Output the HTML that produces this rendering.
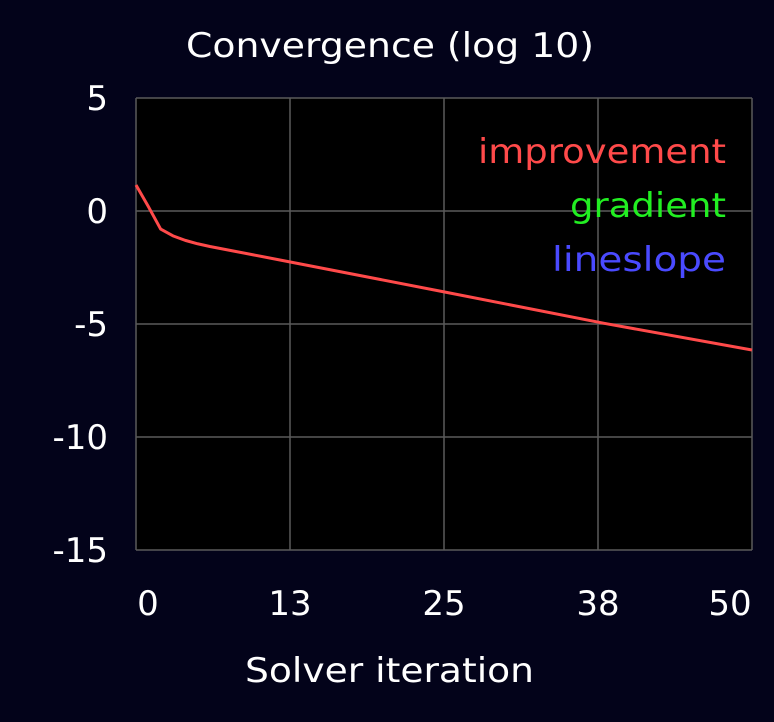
<!DOCTYPE html>
<html><head><meta charset="utf-8"><style>
html,body{margin:0;padding:0;background:#03031a;}
svg text{font-family:"DejaVu Sans","Liberation Sans",sans-serif;}
</style></head><body>
<svg id="chart" width="774" height="717" viewBox="0 0 774 717" xmlns="http://www.w3.org/2000/svg">
<rect x="0" y="0" width="774" height="717" fill="#03031a"/>
<text x="186" y="57" font-size="34" fill="#ffffff" textLength="408" lengthAdjust="spacingAndGlyphs">Convergence (log 10)</text>
<rect x="136" y="98" width="616" height="452" fill="#000000"/>
<g id="grid"></g>
<g id="ticks"></g>
<g id="series"></g>
<text x="245" y="682" font-size="34" fill="#ffffff" textLength="289" lengthAdjust="spacingAndGlyphs">Solver iteration</text>
<g>
<text x="478" y="163" font-size="34" fill="#ff4a4a" textLength="248" lengthAdjust="spacingAndGlyphs">improvement</text>
<text x="570" y="217" font-size="34" fill="#22ee22" textLength="156" lengthAdjust="spacingAndGlyphs">gradient</text>
<text x="552" y="271" font-size="34" fill="#4a4aff" textLength="174" lengthAdjust="spacingAndGlyphs">lineslope</text>
</g>
</svg>
<script>
const xTicks = [0, 12.5, 25, 37.5, 50];
const xTickLabels = ["0", "13", "25", "38", "50"];
const yTicks = [5, 0, -5, -10, -15];
const yTickLabels = ["5", "0", "-5", "-10", "-15"];
const iterations = [0, 1, 2, 3, 4, 5, 6, 8, 12, 25, 38, 50];
const improvement = [1.15, 0.2, -0.8, -1.1, -1.3, -1.45, -1.57, -1.78, -2.2, -3.58, -4.97, -6.15];

const X0=136, X1=752, Y0=550, Y1=98;
function sx(v){return X0+(v-0)/(50-0)*(X1-X0);}
function sy(v){return Y0-(v-(-15))/(5-(-15))*(Y0-Y1);}
const NS="http://www.w3.org/2000/svg";
const grid=document.getElementById('grid');
const ticks=document.getElementById('ticks');
xTicks.forEach((t,i)=>{
  const l=document.createElementNS(NS,'line');
  l.setAttribute('x1',sx(t));l.setAttribute('x2',sx(t));l.setAttribute('y1',Y1);l.setAttribute('y2',Y0);
  l.setAttribute('stroke','#5a5a5a');l.setAttribute('stroke-width','1.5');
  
  
  grid.appendChild(l);
  const tx=document.createElementNS(NS,'text');
  let cx=sx(t);
  if(i===0) cx=sx(t)+12;
  if(i===xTicks.length-1) cx=sx(t)-22;
  tx.setAttribute('x',cx);tx.setAttribute('y',615);
  tx.setAttribute('font-size','34');tx.setAttribute('fill','#fff');tx.setAttribute('text-anchor','middle');
  tx.textContent=xTickLabels[i];
  
  
  ticks.appendChild(tx);
});
yTicks.forEach((t,i)=>{
  const l=document.createElementNS(NS,'line');
  l.setAttribute('x1',X0);l.setAttribute('x2',X1);l.setAttribute('y1',sy(t));l.setAttribute('y2',sy(t));
  l.setAttribute('stroke','#5a5a5a');l.setAttribute('stroke-width','1.5');
  
  
  grid.appendChild(l);
  const tx=document.createElementNS(NS,'text');
  tx.setAttribute('x',108);tx.setAttribute('y',sy(t)+12);
  tx.setAttribute('font-size','34');tx.setAttribute('fill','#fff');tx.setAttribute('text-anchor','end');
  tx.textContent=yTickLabels[i];
  
  
  ticks.appendChild(tx);
});
const p=document.createElementNS(NS,'polyline');
p.setAttribute('points',iterations.map((it,i)=>sx(it)+','+sy(improvement[i])).join(' '));
p.setAttribute('fill','none');p.setAttribute('stroke','#ff4a4a');p.setAttribute('stroke-width','3');
p.setAttribute('stroke-linejoin','round');


document.getElementById('series').appendChild(p);
</script>
</body></html>
